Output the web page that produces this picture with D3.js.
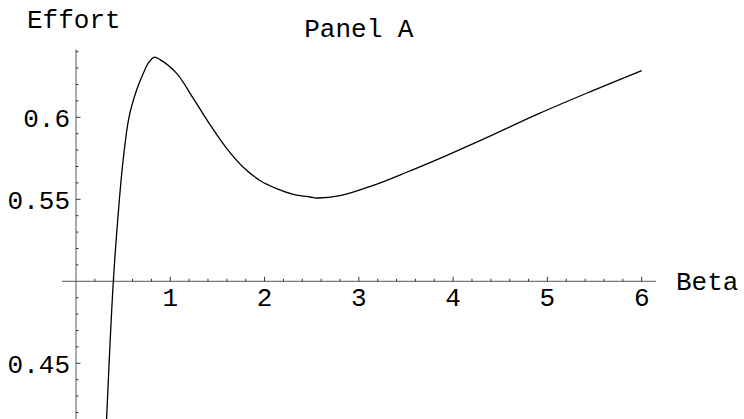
<!DOCTYPE html>
<html>
<head>
<meta charset="utf-8">
<script src="https://cdn.jsdelivr.net/npm/d3@7/dist/d3.min.js"></script>
<style>
  html, body { margin: 0; padding: 0; background: #fff; }
  svg { display: block; }
  text { font-family: "Liberation Mono", "Courier New", monospace; fill: #000; }
</style>
</head>
<body>
<div id="chart"></div>
<script>
// Effort vs Beta
const beta = [0.32, 0.396, 0.459, 0.50, 0.562, 0.643, 0.714, 0.767, 0.827, 0.891, 1.068, 1.244,
              1.421, 1.598, 1.774, 1.951, 2.128, 2.304, 2.481, 2.552, 2.80, 3.153, 3.507, 3.86,
              4.178, 4.39, 4.92, 5.45, 6.0];
const effort = [0.410, 0.500, 0.549, 0.574, 0.600, 0.6166, 0.6268, 0.633, 0.6366, 0.6352, 0.6268, 0.6115,
                0.5955, 0.581, 0.5695, 0.5615, 0.5565, 0.553, 0.5514, 0.5508, 0.5522, 0.5585, 0.5665, 0.575,
                0.583, 0.5885, 0.6025, 0.6155, 0.6285];
const xTicks = [1, 2, 3, 4, 5, 6];
const yTicks = [0.45, 0.55, 0.6];
const yTickLabels = ['0.45', '0.55', '0.6'];

const width = 744, height = 419;
const fontSize = '26px';

const svg = d3.select('#chart')
    .append('svg')
    .attr('width', width)
    .attr('height', height);

const x = d3.scaleLinear().domain([0, 6]).range([76, 641.7]);
const y = d3.scaleLinear().domain([0.45, 0.6]).range([363.3, 117.3]);

const y0 = y(0.5);
const axisColor = '#555';

// x axis
svg.append('line')
    .attr('x1', x(-0.15)).attr('x2', x(6.15))
    .attr('y1', y0).attr('y2', y0)
    .attr('stroke', axisColor).attr('stroke-width', 1);

// minor x ticks every 0.2
const xMinor = d3.range(1, 31).map(i => i / 5).filter(v => Math.abs(v - Math.round(v)) > 1e-6);
svg.selectAll('.xminor')
    .data(xMinor).enter().append('line')
    .attr('x1', d => x(d)).attr('x2', d => x(d))
    .attr('y1', y0).attr('y2', y0 - 2.5)
    .attr('stroke', '#000').attr('stroke-width', 0.8);

svg.selectAll('.xmajor')
    .data(xTicks).enter().append('line')
    .attr('x1', d => x(d)).attr('x2', d => x(d))
    .attr('y1', y0).attr('y2', y0 - 4.5)
    .attr('stroke', '#000').attr('stroke-width', 0.8);

svg.selectAll('.xlabel')
    .data(xTicks).enter().append('text')
    .attr('x', d => x(d))
    .attr('y', 306)
    .attr('text-anchor', 'middle')
    .style('font-size', fontSize)
    .text(d => d);

// y axis
svg.append('line')
    .attr('x1', x(0)).attr('x2', x(0))
    .attr('y1', y(0.6413)).attr('y2', height)
    .attr('stroke', axisColor).attr('stroke-width', 1);

const yMinor = d3.range(42, 65).map(i => i / 100).filter(v => Math.round(v * 100) % 5 !== 0);
svg.selectAll('.yminor')
    .data(yMinor).enter().append('line')
    .attr('x1', x(0)).attr('x2', x(0) + 2.5)
    .attr('y1', d => y(d)).attr('y2', d => y(d))
    .attr('stroke', '#000').attr('stroke-width', 0.8);

svg.selectAll('.ymajor')
    .data(yTicks).enter().append('line')
    .attr('x1', x(0)).attr('x2', x(0) + 4.5)
    .attr('y1', d => y(d)).attr('y2', d => y(d))
    .attr('stroke', '#000').attr('stroke-width', 0.8);

svg.selectAll('.ylabel')
    .data(yTicks).enter().append('text')
    .attr('x', 70)
    .attr('y', d => y(d) + 9.5)
    .attr('text-anchor', 'end')
    .style('font-size', fontSize)
    .text((d, i) => yTickLabels[i]);

// curve
const line = d3.line()
    .x(d => x(d[0]))
    .y(d => y(d[1]))
    .curve(d3.curveCatmullRom.alpha(0.5));

svg.append('path')
    .datum(d3.zip(beta, effort))
    .attr('d', line)
    .attr('fill', 'none')
    .attr('stroke', '#000')
    .attr('stroke-width', 1.3);

// axis labels and title
svg.append('text')
    .attr('x', 27).attr('y', 28)
    .style('font-size', fontSize)
    .text('Effort');

svg.append('text')
    .attr('x', 676).attr('y', 290)
    .style('font-size', fontSize)
    .text('Beta');

svg.append('text')
    .attr('x', x(3)).attr('y', 37)
    .attr('text-anchor', 'middle')
    .style('font-size', fontSize)
    .text('Panel A');
</script>
</body>
</html>
